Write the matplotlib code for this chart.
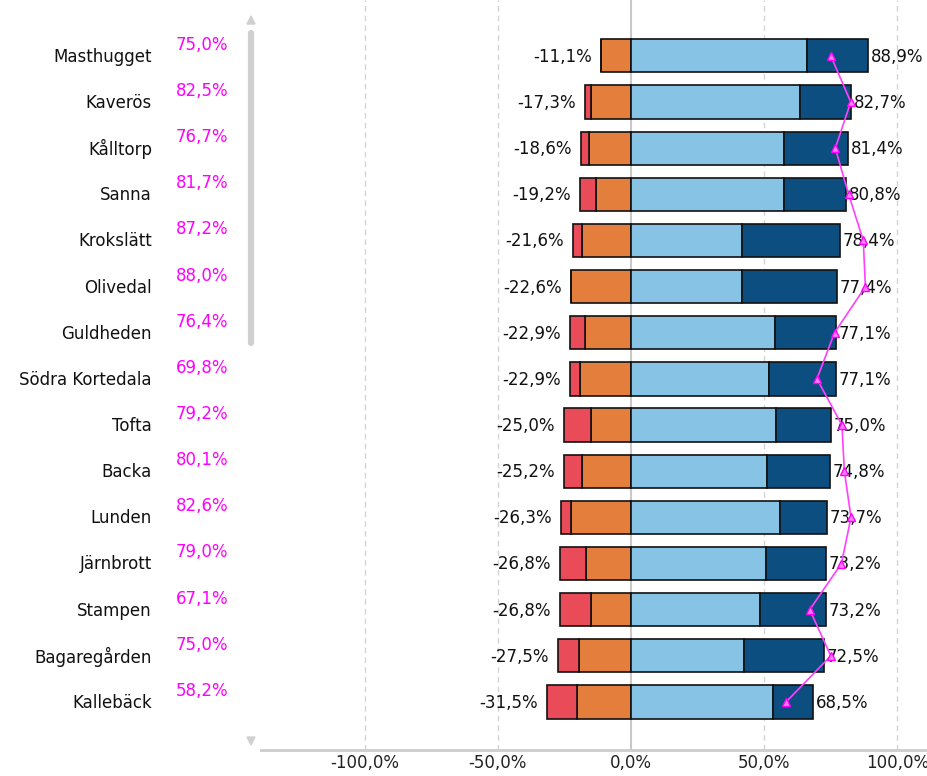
import matplotlib.pyplot as plt
import matplotlib.transforms as mtransforms
import numpy as np

areas = ['Masthugget', 'Kaverös', 'Kålltorp', 'Sanna', 'Krokslätt', 'Olivedal',
         'Guldheden', 'Södra Kortedala', 'Tofta', 'Backa', 'Lunden', 'Järnbrott',
         'Stampen', 'Bagaregården', 'Kallebäck']
very_neg = [0.0, 2.3, 2.9, 6.0, 3.2, 0.0, 5.7, 3.7, 10.0, 6.8, 3.9, 9.9, 11.8, 7.8, 11.1]
neg = [11.1, 15.0, 15.7, 13.2, 18.4, 22.6, 17.2, 19.2, 15.0, 18.4, 22.4, 16.9, 15.0, 19.7, 20.4]
pos = [66.0, 63.5, 57.3, 57.3, 41.7, 41.7, 54.0, 51.8, 54.5, 51.1, 56.0, 50.5, 48.5, 42.5, 53.3]
neg_total = [11.1, 17.3, 18.6, 19.2, 21.6, 22.6, 22.9, 22.9, 25.0, 25.2, 26.3, 26.8, 26.8, 27.5, 31.5]
pos_total = [88.9, 82.7, 81.4, 80.8, 78.4, 77.4, 77.1, 77.1, 75.0, 74.8, 73.7, 73.2, 73.2, 72.5, 68.5]
index = [75.0, 82.5, 76.7, 81.7, 87.2, 88.0, 76.4, 69.8, 79.2, 80.1, 82.6, 79.0, 67.1, 75.0, 58.2]
xticks = [-100, -50, 0, 50, 100]

def pct(v):
    return f'{v:.1f}%'.replace('.', ',')

fs = 12
fig = plt.figure(figsize=(9.28, 7.76), dpi=100)
ax = fig.add_axes([261 / 928, 26 / 776, 1 - 261 / 928, 750 / 776])

y = np.arange(len(areas))
very_neg = np.array(very_neg)
neg = np.array(neg)
pos = np.array(pos)
pos_total = np.array(pos_total)
h = 0.72
kw = dict(height=h, edgecolor='#111111', linewidth=1.2, zorder=3)
ax.barh(y, -neg, color='#e37e3c', **kw)
ax.barh(y, -very_neg, left=-neg, color='#ea4b59', **kw)
ax.barh(y, pos, color='#86c3e4', **kw)
ax.barh(y, pos_total - pos, left=pos, color='#0c4e80', **kw)

ax.plot(index, y, color='#ff40ff', lw=1.2, marker='^', ms=6,
        markerfacecolor='#ff80ff', markeredgecolor='#ff00ff', zorder=5)

for i in range(len(areas)):
    ax.text(-neg_total[i] - 3.5, y[i] + 0.02, '-' + pct(neg_total[i]), ha='right', va='center',
            fontsize=fs, color='#111111', zorder=6)
    ax.text(pos_total[i] + 1.0, y[i] + 0.02, pct(pos_total[i]), ha='left', va='center',
            fontsize=fs, color='#111111', zorder=4)

tr = mtransforms.blended_transform_factory(fig.transFigure, ax.transData)
for i in range(len(areas)):
    ax.text(176 / 928, y[i] - 0.24, pct(index[i]), transform=tr, ha='left',
            va='center', fontsize=fs, color='#ff00ff')
    ax.text(152 / 928, y[i] + 0.02, areas[i], transform=tr, ha='right', va='center',
            fontsize=fs, color='#111111')

ax.set_xlim(-138.9, 111.5)
ax.set_ylim(15.04, -1.21)
ax.set_yticks([])
ax.set_xticks(xticks)
ax.set_xticklabels([pct(v) for v in xticks], fontsize=fs, color='#222222')
ax.tick_params(axis='x', length=0, pad=3)
for v in xticks:
    if v == 0:
        ax.axvline(v, color='#c8c8c8', lw=1.5, zorder=1)
    else:
        ax.axvline(v, color='#d4d4d4', lw=1, ls=(0, (4, 3)), zorder=1)
for s in ['top', 'right', 'left']:
    ax.spines[s].set_visible(False)
ax.spines['bottom'].set_color('#cccccc')
ax.spines['bottom'].set_linewidth(2)

# scrollbar
fig.add_artist(plt.Line2D([251 / 928, 251 / 928], [1 - 33 / 776, 1 - 343 / 776],
                          color='#d0d0d0', lw=4.5, solid_capstyle='round'))
fig.add_artist(plt.Polygon([[247 / 928, 1 - 24 / 776], [255 / 928, 1 - 24 / 776],
                            [251 / 928, 1 - 16 / 776]], color='#d0d0d0'))
fig.add_artist(plt.Polygon([[247 / 928, 1 - 737 / 776], [255 / 928, 1 - 737 / 776],
                            [251 / 928, 1 - 745 / 776]], color='#d0d0d0'))

fig.savefig('out.png', dpi=100)
